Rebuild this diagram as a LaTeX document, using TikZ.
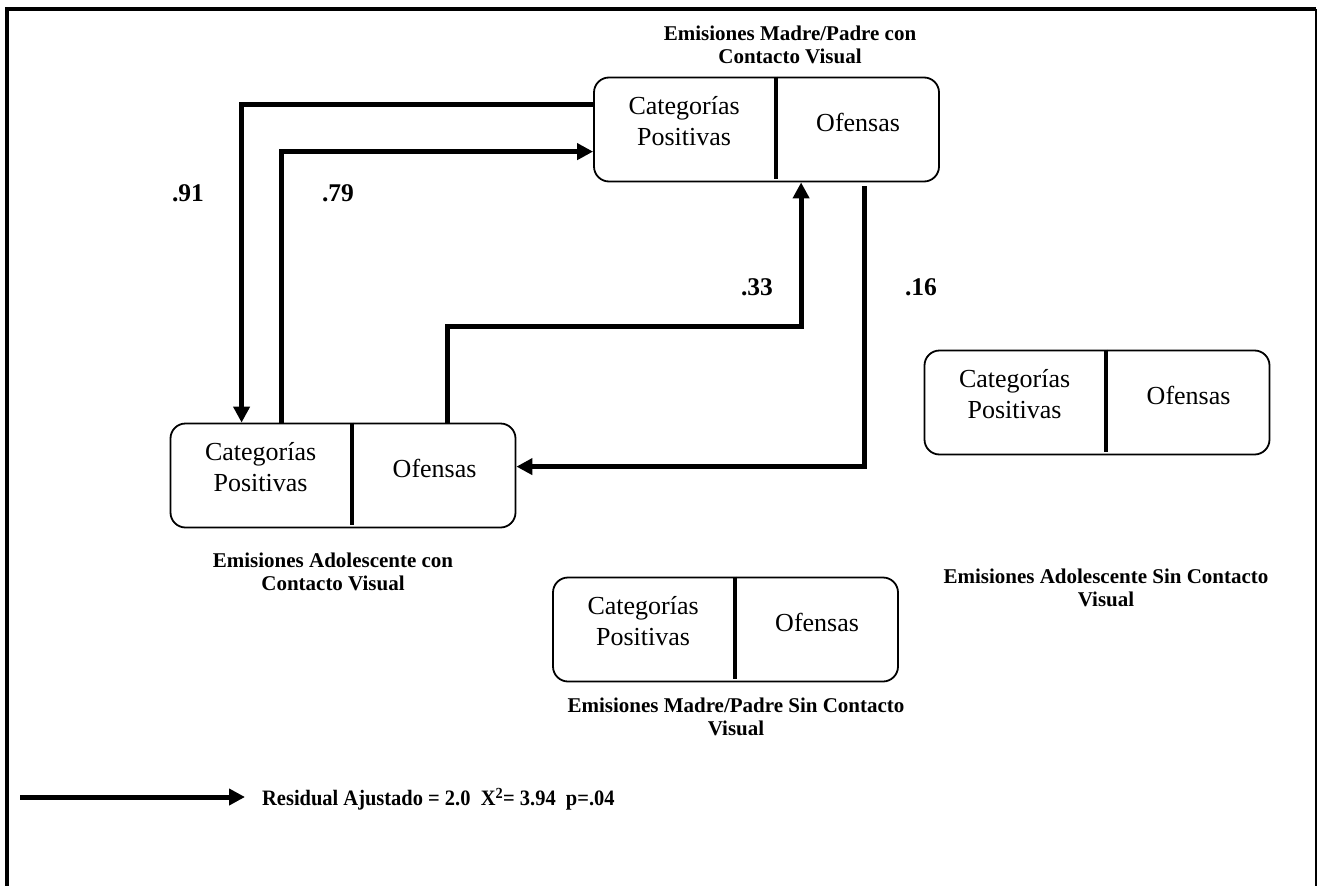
\documentclass[tikz,border=0pt]{standalone}
\usepackage{fontspec}
\setmainfont{Liberation Serif}
\usetikzlibrary{arrows.meta,calc}

\tikzset{
  catbox/.style={draw, line width=1.8pt, rounded corners=15pt,
    minimum width=345pt, minimum height=104pt, inner sep=0pt},
  divider/.style={line width=4pt},
  celltext/.style={align=center, inner sep=0pt,
    font=\fontsize{26}{31}\selectfont},
  boxtitle/.style={align=center, inner sep=0pt,
    font=\fontsize{21}{23.5}\selectfont\bfseries},
  weight/.style={inner sep=0pt, font=\fontsize{25.5}{30}\selectfont\bfseries},
  conn/.style={line width=5pt, -{Triangle[length=16pt,width=16pt]}},
  frame/.style={line width=4pt}
}

% A two-cell category box: name, centre
\newcommand{\catpair}[2]{%
  \node[catbox] (#1) at #2 {};
  \draw[divider] ($(#1.north west)+(182.5,0)$) -- ($(#1.south west)+(182.5,-3)$);
  \node[celltext] (#1-pos) at ($(#1.west)+(91,-8)$) {Categorías\\Positivas};
  \node[celltext] (#1-ofe) at ($(#1.west)+(265,-7)$) {Ofensas};
}

\begin{document}
\begin{tikzpicture}[x=1pt,y=-1pt]
  \useasboundingbox (0,0) rectangle (1317,886);

  % open frame (no bottom edge)
  \draw[frame] (7,886) -- (7,9) -- (1316,9);
  \draw[line width=1.5pt] (1316,9) -- (1316,886);

  % the four category boxes
  \catpair{mpc}{(766.5,129.5)}
  \catpair{adc}{(343,475.5)}
  \catpair{ads}{(1097,402.5)}
  \catpair{mps}{(725.5,629.5)}

  % box titles
  \node[boxtitle] (mpc-t) at (790,45) {Emisiones Madre/Padre con\\Contacto Visual};
  \node[boxtitle] (adc-t) at (333,572) {Emisiones Adolescente con\\Contacto Visual};
  \node[boxtitle] (ads-t) at (1106,588) {Emisiones Adolescente Sin Contacto\\Visual};
  \node[boxtitle] (mps-t) at (736,717) {Emisiones Madre/Padre Sin Contacto\\Visual};

  % significant transitions
  \draw[conn] ($(mpc.north west)+(0,28)$) -| ($(adc.north west)+(72,0)$);
  \draw[conn] ($(adc.north west)+(112,0)$) |- ($(mpc.north west)+(0,75)$);
  \draw[conn] ($(adc.north west)+(278,0)$) -- ++(0,-96) -| ($(mpc.south west)+(208,0)$);
  \draw[conn] ($(mpc.south west)+(271,4)$) |- ($(adc.north east)+(0,44)$);

  % transition weights
  \node[weight] (w91) at (188,193) {.91};
  \node[weight] (w79) at (338,193) {.79};
  \node[weight] (w33) at (757,287) {.33};
  \node[weight] (w16) at (921,287) {.16};

  % legend
  \node[anchor=west, inner sep=0pt, font=\fontsize{22}{26}\selectfont\bfseries]
    (leg) at (262,799) {\scalebox{0.93}[1]{Residual Ajustado = 2.0\ \ X\textsuperscript{2}= 3.94\ \ p=.04}};
  \coordinate (leg0) at (20,797);
  \draw[conn] (leg0) -- ([xshift=-17pt,yshift=2pt]leg.west);
\end{tikzpicture}
\end{document}
